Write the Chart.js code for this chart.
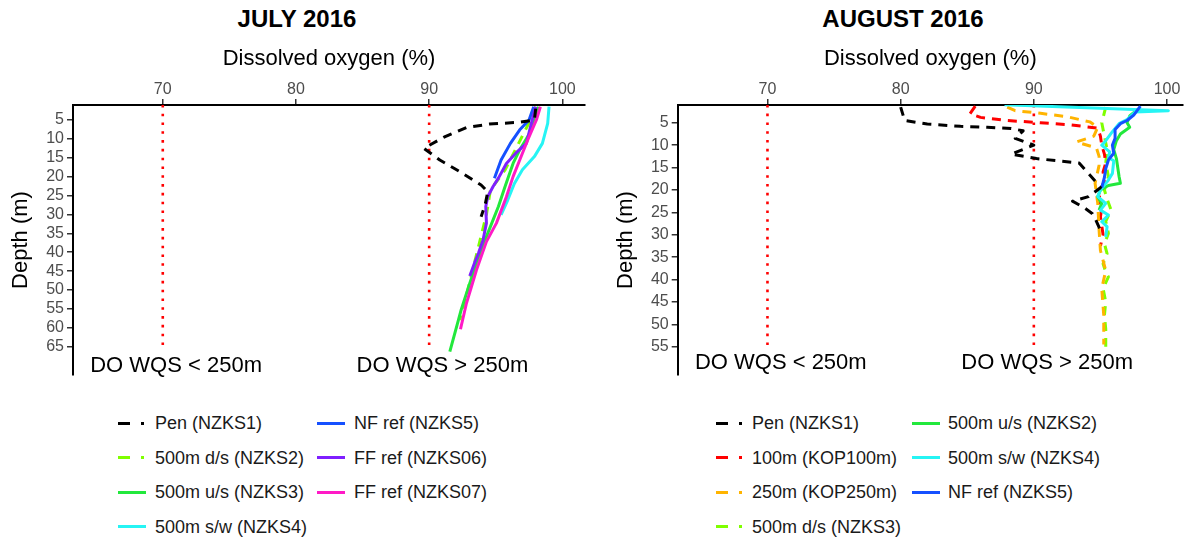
<!DOCTYPE html>
<html>
<head>
<meta charset="utf-8">
<script src="https://cdn.jsdelivr.net/npm/chart.js@4.4.0/dist/chart.umd.min.js"></script>
<style>
html,body{margin:0;padding:0;background:#fff;}
body{width:1185px;height:539px;position:relative;overflow:hidden;font-family:"Liberation Sans",Arial,sans-serif;}
.cv{position:absolute;top:0;}
.title{position:absolute;top:5px;font-weight:bold;font-size:24px;line-height:28px;color:#000;transform:translateX(-50%);white-space:nowrap;}
.item{position:absolute;height:30px;margin-top:-15px;font-size:18px;line-height:30px;color:#1a1a1a;white-space:nowrap;}
.key{position:absolute;top:13.5px;height:3px;}
.dot{position:absolute;top:13.5px;height:3px;width:3px;}
</style>
</head>
<body>
<div class="title" style="left:297px">JULY 2016</div>
<div class="title" style="left:903px">AUGUST 2016</div>
<canvas id="c1" class="cv" style="left:0px" width="595" height="380"></canvas>
<canvas id="c2" class="cv" style="left:600px" width="585" height="380"></canvas>
<div id="leg1"></div>
<div id="leg2"></div>
<script>
// ---------- axis ticks ----------
const xTicks = [70, 80, 90, 100];
const julyDepthTicks = [5,10,15,20,25,30,35,40,45,50,55,60,65];
const augDepthTicks = [5,10,15,20,25,30,35,40,45,50,55];

// ---------- threshold lines & labels ----------
const wqsValues = [70, 90];
const wqsLabels = ['DO WQS < 250m', 'DO WQS > 250m'];
const wqsLabelX = [71, 91];
const julyWqsDepth = [1, 66];
const augWqsDepth = [1, 55.3];
const julyLabelDepth = 70;
const augLabelDepth = 58.5;

// ---------- JULY 2016 ----------
const julyNames = ['Pen (NZKS1)','500m d/s (NZKS2)','500m u/s (NZKS3)','500m s/w (NZKS4)','NF ref (NZKS5)','FF ref (NZKS06)','FF ref (NZKS07)'];
const julyPenDepth = [2, 5, 5.6, 6.1, 7.0, 9.4, 12.5, 15.6, 19.1, 22.2, 24.0, 27.5, 30.6];
const julyPenDO    = [98.0, 97.9, 96.8, 94.5, 92.8, 91.2, 89.6, 90.8, 92.5, 93.9, 94.4, 94.2, 93.9];
const julyDsDepth = [1.5, 5, 12, 18.2, 23.5, 30, 40, 50, 58];
const julyDsDO    = [98.0, 97.6, 96.6, 95.7, 94.6, 94.3, 93.6, 92.9, 92.3];
const julyUsDepth = [1.5, 8.5, 12.9, 16.5, 22.6, 27.9, 34.1, 39.4, 48.2, 55.3, 57.9, 66.3];
const julyUsDO    = [98.2, 97.55, 96.8, 96.3, 95.7, 95.2, 94.5, 93.9, 93.05, 92.4, 92.2, 91.55];
const julySwDepth = [1.5, 5.9, 11.2, 14.7, 18.2, 21.8, 26.2, 30.1];
const julySwDO    = [99.0, 98.9, 98.5, 97.9, 97.0, 96.4, 95.9, 95.4];
const julyNfDepth = [1.5, 5, 7.6, 11.2, 15.6, 20.4];
const julyNfDO    = [97.85, 97.5, 96.8, 96.1, 95.4, 94.9];
const julyFf6Depth = [1.5, 4.1, 11.2, 13.8, 16.5, 20.4, 22.6, 25.3, 27.9, 32.3, 36.7, 40.3, 42.9, 46.3];
const julyFf6DO    = [98.0, 97.8, 97.3, 96.5, 95.8, 95.2, 94.8, 94.4, 94.25, 94.3, 94.05, 93.7, 93.4, 93.05];
const julyFf7Depth = [1.5, 5, 10.3, 15.6, 20, 25.3, 32.3, 37.2, 44.7, 53.5, 60.4];
const julyFf7DO    = [98.35, 98.05, 97.4, 96.8, 96.3, 95.8, 95.05, 94.3, 93.55, 92.8, 92.35];

// ---------- AUGUST 2016 ----------
const augNames = ['Pen (NZKS1)','100m (KOP100m)','250m (KOP250m)','500m d/s (NZKS3)','500m u/s (NZKS2)','500m s/w (NZKS4)','NF ref (NZKS5)'];
const augPenDepth = [1.5, 4.5, 5.3, 5.8, 6.0, 6.3, 6.8, 8.5, 10.0, 12.0, 13.0, 14.0, 16.0, 18.0, 19.5, 21.5, 22.5, 24.0, 25.3, 27.0, 29.0];
const augPenDO    = [80.0, 80.3, 82.0, 84.5, 86.5, 88.3, 89.2, 88.6, 90.0, 88.3, 90.2, 93.4, 94.0, 94.6, 95.0, 94.1, 92.9, 93.8, 94.4, 94.7, 95.0];
const aug100Depth = [1.3, 3.0, 3.8, 4.5, 5.0, 5.5, 6.2, 8, 10, 12, 14, 16, 18, 20, 22, 24, 26, 28, 30, 32.5];
const aug100DO    = [85.6, 85.2, 86.0, 88.0, 90.5, 92.8, 94.8, 95.0, 95.1, 95.3, 95.4, 95.2, 95.3, 95.0, 94.9, 95.1, 95.0, 95.1, 95.2, 95.0];
const aug250Depth = [1.5, 2.3, 2.9, 3.6, 4.8, 6.0, 8.0, 9.3, 10.6, 12.5, 14.5, 18.5, 23, 29, 33.5, 38, 42, 48, 54.5];
const aug250DO    = [88.0, 88.6, 90.5, 92.4, 94.2, 94.8, 94.5, 93.2, 94.7, 94.9, 94.9, 94.6, 94.8, 94.9, 95.0, 95.4, 95.1, 95.25, 95.25];
const augDsDepth = [1.5, 5, 8, 11, 14, 17, 20, 22, 24.5, 27, 29.7, 32, 34.2, 36.5, 38.3, 39.4, 42, 45, 48, 51, 55];
const augDsDO    = [95.4, 95.1, 95.3, 95.5, 95.4, 95.6, 95.3, 95.5, 95.8, 95.4, 95.6, 95.3, 95.5, 95.2, 95.4, 95.6, 95.2, 95.4, 95.3, 95.4, 95.4];
const augUsDepth = [2, 3.5, 5, 6, 7.5, 9, 11, 13, 15, 17, 18.5, 19, 20, 21.5, 23, 24.5];
const augUsDO    = [97.8, 97.2, 97.0, 97.2, 96.5, 96.2, 96.0, 96.2, 96.3, 96.4, 96.5, 95.6, 95.0, 94.8, 95.1, 94.9];
const augSwDepth = [1.0, 2.3, 2.6, 4.3, 5.2, 7.0, 9.0, 10.0, 11.5, 12.8, 13.5, 16.3, 17.8, 20.0, 21.5, 23.0, 24.5, 25.6, 27.1, 28.2, 30.5];
const augSwDO    = [87.8, 100.1, 97.6, 97.0, 96.4, 95.9, 95.4, 95.1, 95.7, 95.6, 96.0, 95.9, 95.6, 95.0, 94.8, 95.4, 95.0, 95.6, 95.1, 95.5, 95.4];
const augNfDepth = [1.3, 3.3, 4.5, 5.2, 6.5, 8.5, 10.0, 11.8, 13.3, 15.2, 17.2, 19.5];
const augNfDO    = [98.0, 97.5, 97.0, 96.5, 96.1, 96.1, 95.9, 96.0, 95.6, 95.4, 95.3, 95.1];

// ---------- styles ----------
const C = {black:'#000000', lime:'#7FFF00', green:'#22E83C', cyan:'#26F4F4', blue:'#1550FF', purple:'#7F1FFF', magenta:'#FF1AC6', red:'#FF0000', orange:'#FFB400'};
const FONT = '"Liberation Sans", Arial, sans-serif';

function pts(xs, ys){ return xs.map((v,i)=>({x:v, y:ys[i]})); }
function line(label, xs, ys, color, dashed, order){
  return {label, data: pts(xs, ys), borderColor: color, backgroundColor: color, borderWidth: 3,
    borderDash: dashed ? [9,7] : [], borderCapStyle:'butt', borderJoinStyle:'round',
    showLine:true, pointRadius:0, tension:0, order};
}
function wqsLines(depths){
  return wqsValues.map(v => ({label:'_wqs', data: pts([v,v], depths), borderColor:'#FF0000', borderWidth:2.6,
    borderDash:[2.6,6.2], borderCapStyle:'butt', showLine:true, pointRadius:0, order:100}));
}

const wqsPlugin = {
  id:'wqs',
  afterDatasetsDraw(chart, args, opts){
    const {ctx} = chart; const x = chart.scales.x, y = chart.scales.y;
    ctx.save();
    ctx.font = '22px ' + FONT; ctx.fillStyle = '#000'; ctx.textAlign='center'; ctx.textBaseline='middle';
    opts.labels.forEach((t,i)=> ctx.fillText(t, x.getPixelForValue(opts.xs[i]), y.getPixelForValue(opts.depth)));
    ctx.restore();
  }
};

function makeChart(id, datasets, depthTicks, yMax, yAxisWidth, yTitlePad, padRight, xMax, labelDepth){
  return new Chart(document.getElementById(id), {
    type:'scatter',
    data:{datasets},
    plugins:[wqsPlugin],
    options:{
      responsive:false, animation:false, devicePixelRatio:1,
      layout:{padding:{left:0, right:padRight, top:0, bottom:5}},
      plugins:{legend:{display:false}, tooltip:{enabled:false},
        wqs:{labels:wqsLabels, xs:wqsLabelX, depth:labelDepth}},
      scales:{
        x:{type:'linear', position:'top', min:63.26, max:xMax,
          afterBuildTicks:(s)=>{ s.ticks = xTicks.map(v=>({value:v})); },
          afterFit:(s)=>{ s.height = 105; s.paddingLeft = 0; s.paddingRight = 0; },
          ticks:{font:{family:FONT, size:16}, color:'#4D4D4D', padding:0, maxRotation:0, autoSkip:false},
          grid:{display:true, drawOnChartArea:false, drawTicks:true, tickLength:6, tickColor:'#333', lineWidth:1.5},
          border:{display:true, color:'#000', width:2},
          title:{display:true, text:'Dissolved oxygen (%)', font:{family:FONT, size:22}, color:'#000', padding:{top:45.3, bottom:0}}
        },
        y:{type:'linear', position:'left', reverse:true, min:1.04, max:yMax,
          afterBuildTicks:(s)=>{ s.ticks = depthTicks.map(v=>({value:v})); },
          afterFit:(s)=>{ s.width = yAxisWidth; s.paddingTop = 0; s.paddingBottom = 0; },
          ticks:{font:{family:FONT, size:16}, color:'#4D4D4D', padding:3, autoSkip:false},
          grid:{display:true, drawOnChartArea:false, drawTicks:true, tickLength:6, tickColor:'#333', lineWidth:1.5},
          border:{display:true, color:'#000', width:2},
          title:{display:true, text:'Depth (m)', font:{family:FONT, size:22}, color:'#000', padding:{top:yTitlePad, bottom:0}}
        }
      }
    }
  });
}

const julyColors = [C.black, C.lime, C.green, C.cyan, C.blue, C.purple, C.magenta];
const julyDashed = [true, true, false, false, false, false, false];
const julySets = [
  line(julyNames[0], julyPenDO, julyPenDepth, C.black, true, 1),
  line(julyNames[1], julyDsDO, julyDsDepth, C.lime, true, 7),
  line(julyNames[2], julyUsDO, julyUsDepth, C.green, false, 6),
  line(julyNames[3], julySwDO, julySwDepth, C.cyan, false, 5),
  line(julyNames[4], julyNfDO, julyNfDepth, C.blue, false, 4),
  line(julyNames[5], julyFf6DO, julyFf6Depth, C.purple, false, 3),
  line(julyNames[6], julyFf7DO, julyFf7Depth, C.magenta, false, 2),
  ...wqsLines(julyWqsDepth)
];
const augColors = [C.black, C.red, C.orange, C.lime, C.green, C.cyan, C.blue];
const augDashed = [true, true, true, true, false, false, false];
const augSets = [
  line(augNames[0], augPenDO, augPenDepth, C.black, true, 1),
  line(augNames[1], aug100DO, aug100Depth, C.red, true, 6),
  line(augNames[2], aug250DO, aug250Depth, C.orange, true, 5),
  line(augNames[3], augDsDO, augDsDepth, C.lime, true, 7),
  line(augNames[4], augUsDO, augUsDepth, C.green, false, 4),
  line(augNames[5], augSwDO, augSwDepth, C.cyan, false, 3),
  line(augNames[6], augNfDO, augNfDepth, C.blue, false, 2),
  ...wqsLines(augWqsDepth)
];

makeChart('c1', julySets, julyDepthTicks, 72.5, 73, 7.8, 10, 101.7, julyLabelDepth);
makeChart('c2', augSets, augDepthTicks, 61.3, 77.7, 12.8, 2, 101.2, augLabelDepth);

// ---------- HTML legends (column-major, 4 rows) ----------
function buildLegend(elId, names, colors, dashed, colX, textX){
  const el = document.getElementById(elId);
  names.forEach((n,i)=>{
    const col = Math.floor(i/4), row = i%4;
    const item = document.createElement('div');
    item.className = 'item';
    item.style.left = colX[col] + 'px';
    item.style.top = (423 + row*34.5) + 'px';
    item.style.width = '260px';
    if (dashed[i]) {
      const k = document.createElement('div'); k.className='key'; k.style.left='0px'; k.style.width='12px'; k.style.background=colors[i]; item.appendChild(k);
      const d = document.createElement('div'); d.className='dot'; d.style.left='23px'; d.style.background=colors[i]; item.appendChild(d);
    } else {
      const k = document.createElement('div'); k.className='key'; k.style.left='0px'; k.style.width='28px'; k.style.background=colors[i]; item.appendChild(k);
    }
    const t = document.createElement('span');
    t.style.position='absolute'; t.style.left=(textX[col]-colX[col])+'px'; t.textContent = n;
    item.appendChild(t);
    el.appendChild(item);
  });
}
buildLegend('leg1', julyNames, julyColors, julyDashed, [118, 317], [155, 354]);
buildLegend('leg2', augNames, augColors, augDashed, [716, 912], [752, 948]);
</script>
</body>
</html>
